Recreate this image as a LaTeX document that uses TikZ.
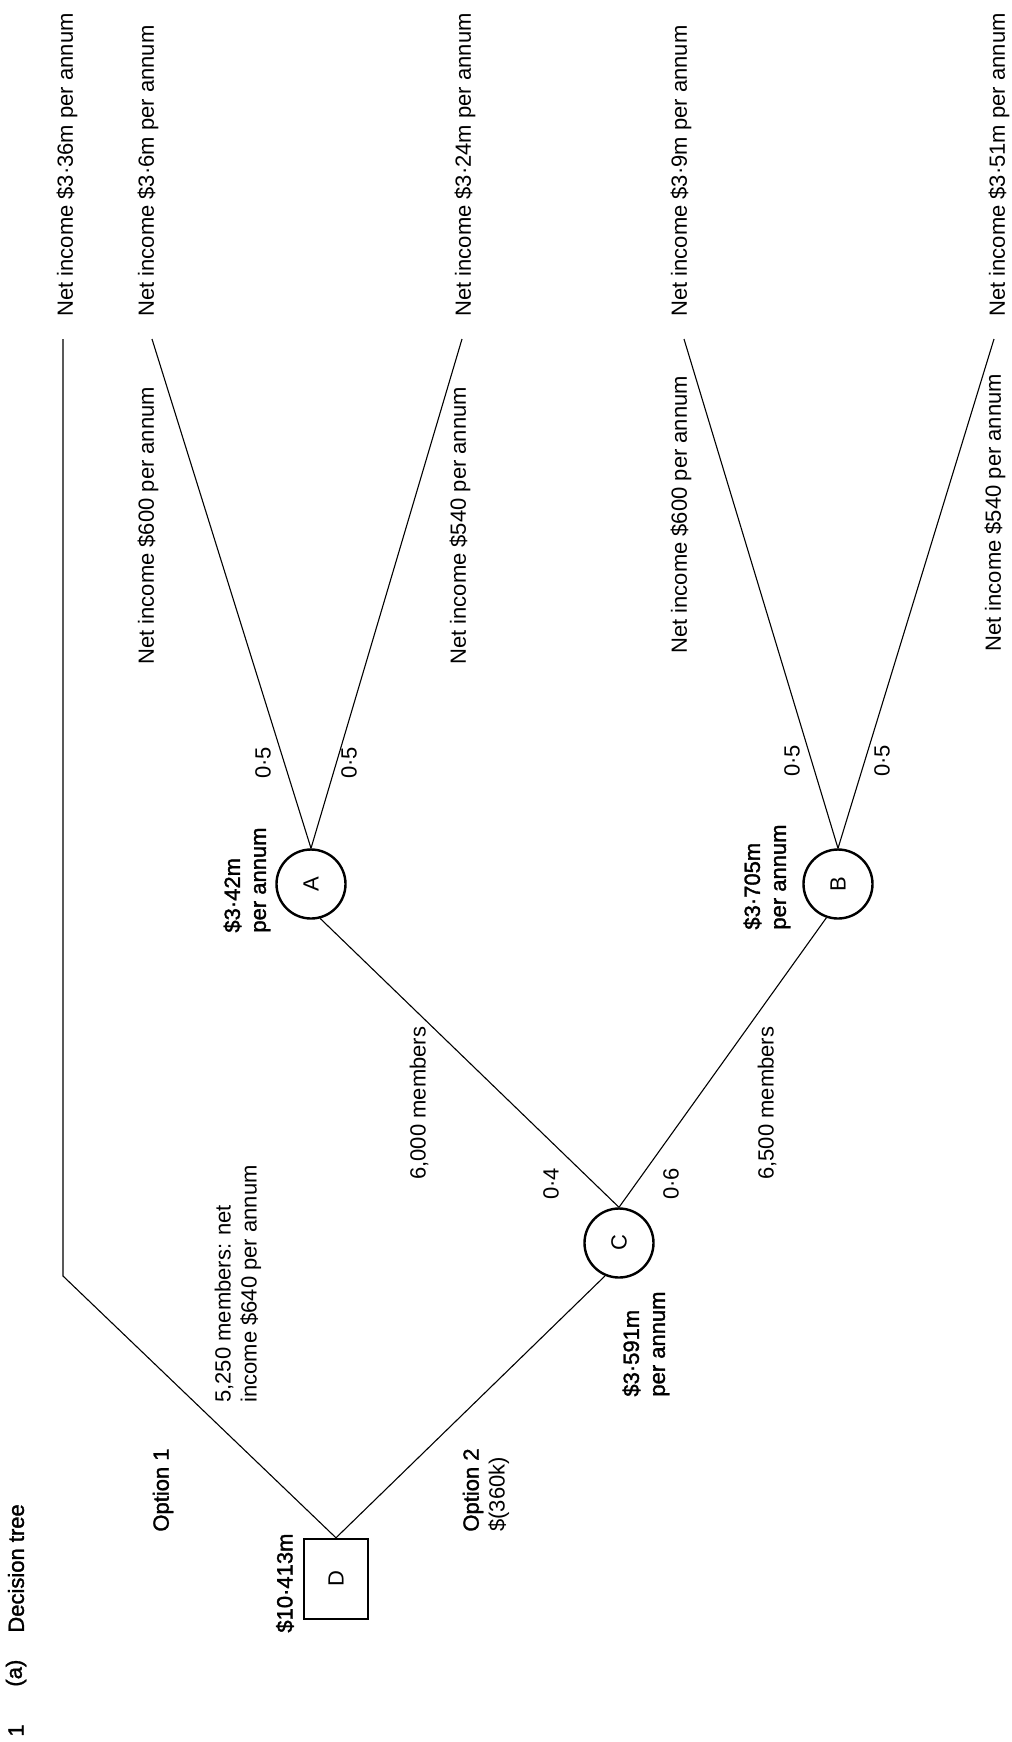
\documentclass[tikz,border=0pt]{standalone}
\usepackage{fontspec}
\setmainfont{Liberation Sans}
\newfontfamily\heavy{Liberation Sans}[FakeBold=1.5]
\begin{document}
\begin{tikzpicture}[x=0.5pt,y=-0.5pt,
  lbl/.style={rotate=90, anchor=west, inner sep=0pt, align=left, font=\fontsize{11}{13}\selectfont},
  hlbl/.style={lbl, font=\fontsize{11}{13}\selectfont\heavy},
  prob/.style={rotate=90, anchor=center, inner sep=0pt, font=\fontsize{11}{13}\selectfont},
  chance/.style={circle, draw, line width=1.2pt, minimum size=34.5pt, inner sep=0pt, font=\fontsize{11}{13}\selectfont},
  decision/.style={draw, line width=1.2pt, minimum width=32pt, minimum height=40pt, inner sep=0pt, font=\fontsize{11}{13}\selectfont},
  link/.style={line width=0.55pt}]
\useasboundingbox (0,0) rectangle (1012,1742);

% heading
\node[hlbl] (num) at (16,1737) {1};
\node[hlbl] (part) at (16,1687) {(a)};
\node[hlbl] (title) at (16,1633) {Decision tree};

% decision and chance nodes
\node[decision] (D) at (336,1579) {\rotatebox{90}{D}};
\node[chance] (C) at (619,1243) {\rotatebox{90}{C}};
\node[chance] (A) at (311,884) {\rotatebox{90}{A}};
\node[chance] (B) at (838,884) {\rotatebox{90}{B}};

% free ends
\coordinate (c1) at (63,1276);
\coordinate (t0) at (63,339);
\coordinate (t1) at (152,339);
\coordinate (t2) at (462,339);
\coordinate (t3) at (684,339);
\coordinate (t4) at (994,339);

% connectors
\draw[link] (D.north) -- (c1) -- (t0);
\draw[link] (D.north) -- (C.247);
\draw[link] (C.north) -- (A.285);
\draw[link] (C.north) -- (B.251);
\draw[link] (A.north) -- (t1);
\draw[link] (A.north) -- (t2);
\draw[link] (B.north) -- (t3);
\draw[link] (B.north) -- (t4);

% value labels
\node[hlbl] (vD) at (285,1633) {\$10·413m};
\node[hlbl] (vA) at (247,933) {\$3·42m\\per annum};
\node[hlbl] (vB) at (767,930) {\$3·705m\\per annum};
\node[hlbl] (vC) at (646,1397) {\$3·591m\\per annum};

% option labels
\node[hlbl] (o1) at (163,1532) {Option 1};
\node[lbl] (o2) at (486,1532) {{\heavy Option 2}\\\$(360k)};
\node[lbl] (m5250) at (238,1403) {5,250 members: net\\income \$640 per annum};
\node[lbl] (m6000) at (419,1180) {6,000 members};
\node[lbl] (m6500) at (767,1180) {6,500 members};

% probabilities
\node[prob] (p04) at (551,1184) {0·4};
\node[prob] (p06) at (671,1184) {0·6};
\node[prob] (pA1) at (263,763) {0·5};
\node[prob] (pA2) at (349,763) {0·5};
\node[prob] (pB1) at (792,761) {0·5};
\node[prob] (pB2) at (882,761) {0·5};

% branch labels
\node[lbl] (nA1) at (148,665) {Net income \$600 per annum};
\node[lbl] (nA2) at (460,665) {Net income \$540 per annum};
\node[lbl] (nB1) at (681,654) {Net income \$600 per annum};
\node[lbl] (nB2) at (995,652) {Net income \$540 per annum};

% outcome labels
\node[lbl] (r0) at (67,317) {Net income \$3·36m per annum};
\node[lbl] (r1) at (148,317) {Net income \$3·6m per annum};
\node[lbl] (r2) at (465,317) {Net income \$3·24m per annum};
\node[lbl] (r3) at (681,317) {Net income \$3·9m per annum};
\node[lbl] (r4) at (999,317) {Net income \$3·51m per annum};
\end{tikzpicture}
\end{document}
